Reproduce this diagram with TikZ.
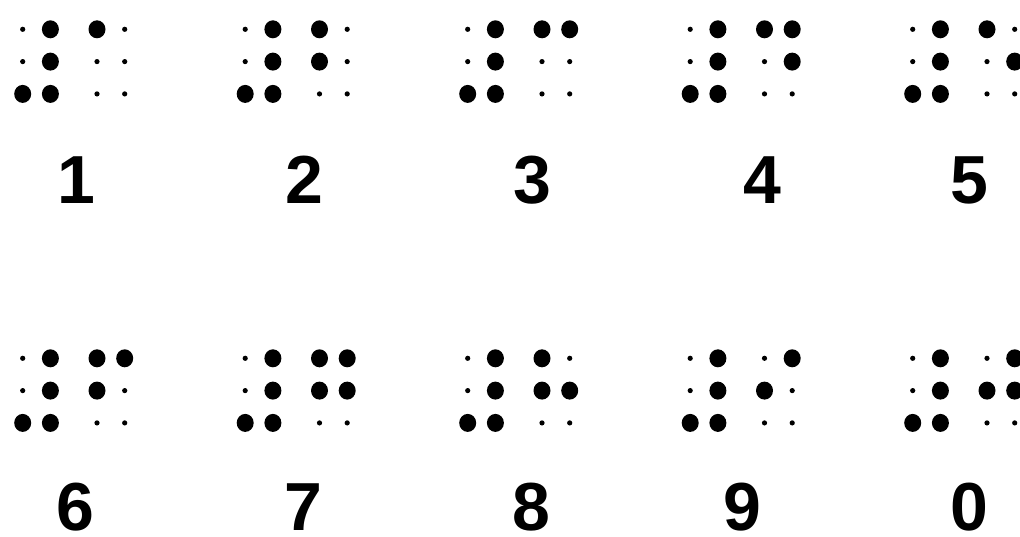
\documentclass[tikz,border=0pt]{standalone}
\usepackage{fontspec}
\setmainfont{Liberation Sans}
\newcommand\bdot[3]{\ifnum#3=1 \fill (#1,#2) ellipse[x radius=8.5,y radius=9];\else \fill (#1,#2) circle[radius=2.6];\fi}
% #1 x, #2 y, #3..#8 dots 1..6
\newcommand\bcell[8]{%
  \bdot{#1}{#2}{#3}\bdot{#1}{#2+32.3}{#4}\bdot{#1}{#2+64.6}{#5}%
  \bdot{#1+27.7}{#2}{#6}\bdot{#1+27.7}{#2+32.3}{#7}\bdot{#1+27.7}{#2+64.6}{#8}}
% number sign + letter cell
\newcommand\bnum[8]{%
  \bcell{#1}{#2}{0}{0}{1}{1}{1}{1}%
  \bcell{#1+74.3}{#2}{#3}{#4}{#5}{#6}{#7}{#8}}
\begin{document}
\begin{tikzpicture}[x=1pt,y=-1pt,
  digit/.style={font=\fontsize{68}{68}\selectfont\bfseries, inner sep=0pt,
    text depth=0pt, text height=49pt, anchor=base}]
\useasboundingbox (0,0) rectangle (1020,536);
\clip (0,0) rectangle (1020,536);
\fill[white] (0,0) rectangle (1020,536);
% row 1 cells
\bnum{22.7}{29.3}{1}{0}{0}{0}{0}{0}
\bnum{245.2}{29.3}{1}{1}{0}{0}{0}{0}
\bnum{467.7}{29.3}{1}{0}{0}{1}{0}{0}
\bnum{690.2}{29.3}{1}{0}{0}{1}{1}{0}
\bnum{912.7}{29.3}{1}{0}{0}{0}{1}{0}
% row 2 cells
\bnum{22.7}{358.3}{1}{1}{0}{1}{0}{0}
\bnum{245.2}{358.3}{1}{1}{0}{1}{1}{0}
\bnum{467.7}{358.3}{1}{1}{0}{0}{1}{0}
\bnum{690.2}{358.3}{0}{1}{0}{1}{0}{0}
\bnum{912.7}{358.3}{0}{1}{0}{1}{1}{0}
% labels
\node[digit] (d1) at (76,203) {1};
\node[digit] (d2) at (304,203) {2};
\node[digit] (d3) at (532,203) {3};
\node[digit] (d4) at (762,203) {4};
\node[digit] (d5) at (969,203) {5};
\node[digit] (d6) at (75,530) {6};
\node[digit] (d7) at (303,530) {7};
\node[digit] (d8) at (531,530) {8};
\node[digit] (d9) at (742,530) {9};
\node[digit] (d0) at (969,530) {0};
\end{tikzpicture}
\end{document}
